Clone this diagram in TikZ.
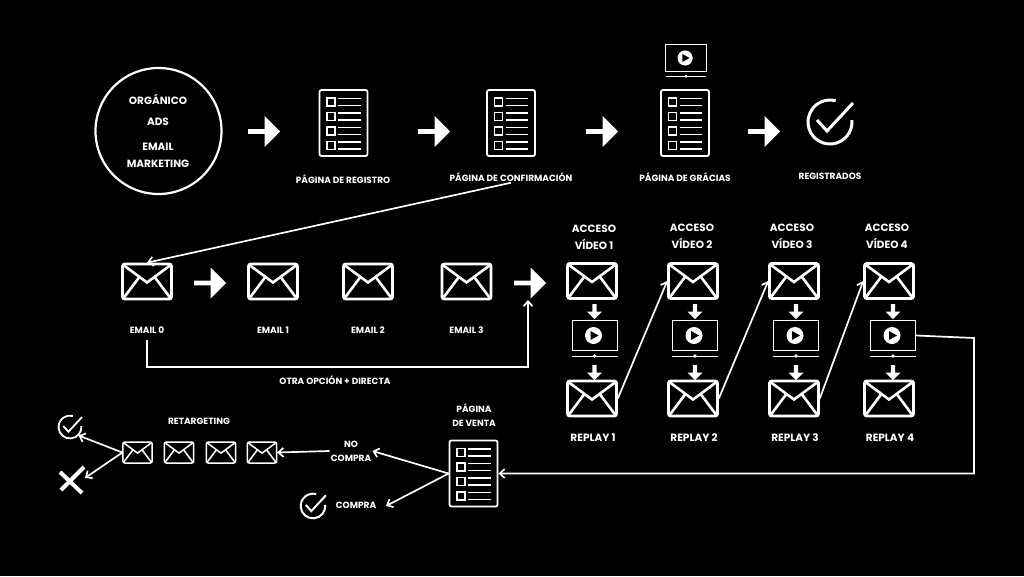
\documentclass[tikz,border=0pt]{standalone}
\usepackage{fontspec}
\setmainfont{Poppins}
\usetikzlibrary{shapes.arrows, arrows.meta, calc}

\tikzset{
	lab/.style={text=white, font=\bfseries\fontsize{9}{14}\selectfont, align=center, inner sep=0pt},
	biglab/.style={lab, font=\bfseries\fontsize{10.5}{17}\selectfont},
	flow/.style={draw=white, line width=1.7pt, -{Straight Barb[length=5pt,width=9pt]}},
	blockarrow/.style={single arrow, fill=white, inner sep=0pt, minimum height=32pt, minimum width=31pt, single arrow head extend=7.5pt, single arrow head indent=0pt},
	dropshape/.style={single arrow, fill=white, inner sep=0pt, minimum height=15pt, minimum width=15pt, single arrow head extend=3.5pt, shape border rotate=270},
	iconbox/.style={draw=white, rounded corners=2pt, inner sep=0pt, transform shape},
	mailicon/.pic={
		\node[iconbox, minimum width=49pt, minimum height=35pt] (-box) {};
		\draw[white] (-23,-16) -- (0,1) -- (23,-16);
		\draw[white] (-23,16) -- (-8,-4);
		\draw[white] (23,16) -- (8,-4);
	},
	formicon/.pic={
		\node[iconbox, line width=1.8pt, minimum width=48pt, minimum height=66pt] (-box) {};
		\foreach \r in {-21,-6.5,8,22.5} {
			\draw[white, line width=1.5pt] (-16.5,\r-4) rectangle (-8.5,\r+4);
			\draw[white, line width=1.5pt] (-5.5,\r-3.5) -- (17,\r-3.5);
			\draw[white, line width=1.5pt] (-5.5,\r+3.5) -- (17,\r+3.5);
		}
	},
	screenicon/.pic={
		\node[iconbox, rounded corners=0pt, line width=1pt, minimum width=45pt, minimum height=30pt] (-box) {};
		\fill[white] (-1,0) circle[radius=8.5pt];
		\fill[black] (-4,-4.5) -- (4,0) -- (-4,4.5) -- cycle;
		\draw[white, line width=1pt] (-23,20.5) -- (23,20.5);
		\fill[white] (0,20.5) circle[radius=1.8pt];
	},
	checkicon/.pic={
		\node[circle, inner sep=0pt, minimum size=44pt, transform shape] (-box) {};
		\draw[white] (5:22pt) arc[start angle=5, end angle=-285, radius=22pt];
		\draw[white] (-13,-2) -- (-3,9) -- (23,-19);
	}
}

\begin{document}
\begin{tikzpicture}[x=1pt, y=-1pt, line width=2.6pt]
	\useasboundingbox (0,0) rectangle (1024,576);
	\fill[black] (0,0) rectangle (1024,576);

	\node[circle, draw=white, line width=2.2pt, minimum size=126pt, inner sep=0pt] (source) at (158.5,131) {};
	\node[biglab] (organic) at (158,99) {ORGÁNICO};
	\node[biglab] (ads) at (158,122) {ADS};
	\node[biglab] (emailmkt) at (158,155) {EMAIL\\MARKETING};

	\path (343.5,123) pic (regform) {formicon};
	\path (511,123) pic (confform) {formicon};
	\path (685,123) pic (thanksform) {formicon};
	\path (473.5,473.5) pic (saleform) {formicon};
	\path (686,58) pic[scale=0.89] (topscreen) {screenicon};
	\path (830,122) pic[line width=3pt] (registered) {checkicon};

	\node[lab] (reglab) at (343,179) {PÁGINA DE REGISTRO};
	\node[lab] (conflab) at (511,177) {PÁGINA DE CONFIRMACIÓN};
	\node[lab] (thankslab) at (685,177) {PÁGINA DE GRÁCIAS};
	\node[lab] (registeredlab) at (830,176) {REGISTRADOS};

	\foreach \n/\x/\y in {a/263/131.5, b/433/131.5, c/601/131.5, d/763/131.5, e/209/283, f/529/283}
		\node[blockarrow] (step\n) at (\x,\y) {};

	\foreach \n/\x in {0/147, 1/273, 2/368, 3/466.5} {
		\path (\x,281.5) pic (email\n) {mailicon};
		\node[lab] (emaillab\n) at (\x,330) {EMAIL \n};
	}

	\foreach \n/\m/\v/\t/\y in {1/592/594.5/594/229, 2/693/695/692/228, 3/794/796/792/228, 4/889/893/887/228} {
		\node[biglab] (access\n) at (\t,\y+8.5) {ACCESO\\VÍDEO \n};
		\path (\m,281) pic (open\n) {mailicon};
		\node[dropshape] (dropa\n) at (\v,310.5) {};
		\path (\v,335.5) pic (video\n) {screenicon};
		\node[dropshape] (dropb\n) at (\v,371.5) {};
		\path (\m,398.5) pic (replay\n) {mailicon};
		\node[biglab] (replaylab\n) at (\m+1,438) {REPLAY \n};
	}

	\draw[flow] (conflab.south) -- (email0-box.north);
	\coordinate (low0) at (147,367);
	\coordinate (stepfoot) at (528,300);
	\draw[flow] ([yshift=-5pt]emaillab0.south) -- (low0) -| (stepfoot);
	\node[lab] (directlab) at (335,380) {OTRA OPCIÓN + DIRECTA};

	\draw[flow] (replay1-box.east) -- (open2-box.west);
	\draw[flow] (replay2-box.east) -- (open3-box.west);
	\draw[flow] (replay3-box.east) -- (open4-box.west);

	\coordinate (turna) at (974,338);
	\coordinate (turnb) at (974,473.5);
	\draw[flow] (video4-box.east) -- (turna) -- (turnb) -- (saleform-box.east);

	\node[lab] (salelab) at (474,415.5) {PÁGINA\\DE VENTA};
	\node[lab] (nobuy) at (351,451) {NO\\COMPRA};
	\node[lab] (buy) at (356,505.5) {COMPRA};
	\node[lab] (retarget) at (199,421.5) {RETARGETING};

	\foreach \n/\x in {1/137.5, 2/179, 3/221, 4/262}
		\path (\x,452.5) pic[scale=0.6, line width=1.5pt] (retmail\n) {mailicon};

	\path (313,506) pic[scale=0.56, line width=2pt] (buycheck) {checkicon};
	\path (70,427) pic[scale=0.52, line width=1.8pt] (retcheck) {checkicon};

	\coordinate (cross) at (71,481);
	\draw[white, line width=4pt] (60,472) -- (82,493);
	\draw[white, line width=4pt] (61,490) -- (84,467);

	\coordinate (buytip) at (386,506);
	\draw[flow] (saleform-box.west) -- (nobuy.east);
	\draw[flow] (saleform-box.west) -- (buytip);
	\draw[flow] (nobuy.west) -- (retmail4-box.east);
	\draw[flow] (retmail1-box.west) -- (retcheck-box.south east);
	\draw[flow] (retmail1-box.west) -- ($(cross)+(14,-3)$);
\end{tikzpicture}
\end{document}
